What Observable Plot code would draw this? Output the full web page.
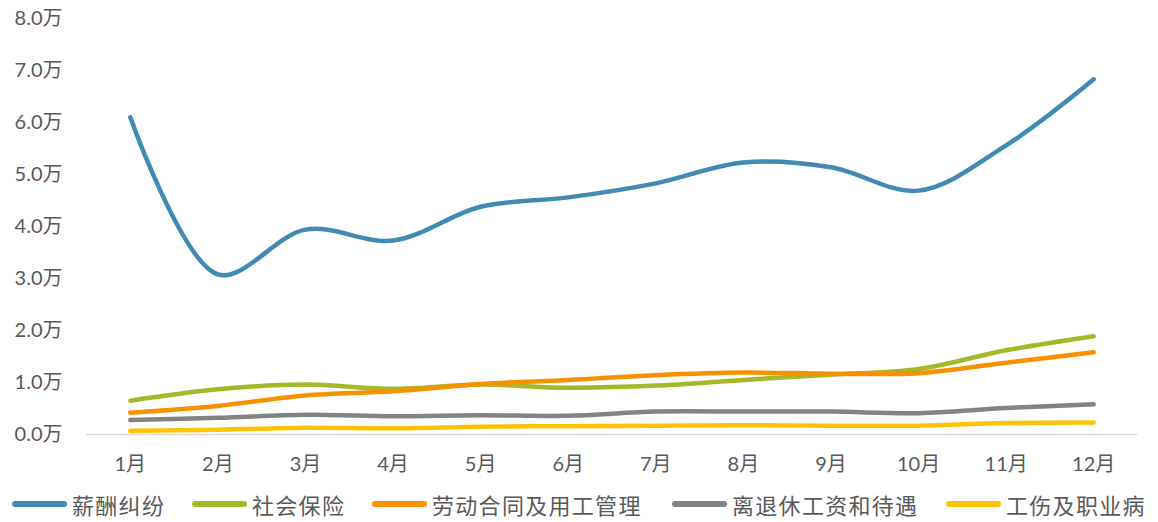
<!DOCTYPE html>
<html>
<head>
<meta charset="utf-8">
<script src="https://cdn.jsdelivr.net/npm/d3@7"></script>
<script src="https://cdn.jsdelivr.net/npm/@observablehq/plot@0.6"></script>
<style>
  html, body { margin: 0; padding: 0; background: #fff; }
  body { width: 1158px; height: 522px; overflow: hidden; font-family: Lato, "Noto Sans CJK SC", sans-serif; }
  #chart svg { display: block; }
  #legend { position: relative; height: 37px; }
  .item { position: absolute; top: 0; height: 37px; display: flex; align-items: center; }
  .sw { width: 55px; height: 6px; border-radius: 3px; margin-right: 5px; }
  .lab { font-size: 22px; color: #595959; letter-spacing: 1.3px; font-family: "Noto Sans CJK SC", sans-serif; }
</style>
</head>
<body>
<div id="chart"></div>
<div id="legend"></div>
<script>
const months = ["1月","2月","3月","4月","5月","6月","7月","8月","9月","10月","11月","12月"];
const seriesNames = ["薪酬纠纷","社会保险","劳动合同及用工管理","离退休工资和待遇","工伤及职业病"];
const colors = ["#418AB3","#A6B727","#F69200","#838383","#FEC306"];
const wage      = [6.10, 3.08, 3.94, 3.73, 4.38, 4.56, 4.83, 5.23, 5.14, 4.69, 5.56, 6.83];
const insurance = [0.65, 0.87, 0.96, 0.88, 0.96, 0.90, 0.94, 1.05, 1.15, 1.26, 1.62, 1.89];
const contract  = [0.42, 0.55, 0.75, 0.83, 0.97, 1.05, 1.14, 1.19, 1.17, 1.18, 1.38, 1.58];
const retire    = [0.28, 0.32, 0.38, 0.35, 0.37, 0.36, 0.44, 0.44, 0.44, 0.41, 0.51, 0.58];
const injury    = [0.07, 0.09, 0.13, 0.12, 0.15, 0.16, 0.17, 0.18, 0.17, 0.17, 0.22, 0.23];
const yTicks = [0,1,2,3,4,5,6,7,8];
const yTickLabels = yTicks.map(v => v.toFixed(1) + "万");

const allSeries = [wage, insurance, contract, retire, injury];
const data = [];
allSeries.forEach((vals, si) => vals.forEach((v, i) => data.push({series: seriesNames[si], month: months[i], value: v})));

const chart = Plot.plot({
  width: 1158,
  height: 485,
  marginLeft: 86,
  marginRight: 21,
  marginTop: 18,
  marginBottom: 51,
  style: {fontFamily: "Lato, 'Noto Sans CJK SC', sans-serif", fontSize: "20px", color: "#595959", background: "#fff"},
  x: {type: "point", domain: months, padding: 0.5, round: false, label: null},
  y: {domain: [0, 8], label: null},
  color: {domain: seriesNames, range: colors},
  marks: [
    Plot.ruleY([0], {stroke: "#D9D9D9", strokeWidth: 1.5}),
    Plot.axisY(yTicks, {tickSize: 0, tickPadding: 24, tickFormat: (d, i) => yTickLabels[i], fontSize: 20, fill: "#595959", label: null}),
    Plot.axisX(months, {tickSize: 0, tickPadding: 22, fontSize: 20, fill: "#595959", label: null}),
    Plot.line(data, {x: "month", y: "value", z: "series", stroke: "series", strokeWidth: 4.5, curve: "catmull-rom", strokeLinecap: "round", strokeLinejoin: "round"})
  ]
});
document.getElementById("chart").appendChild(chart);

const lefts = [12, 192, 372, 672, 946];
const legend = document.getElementById("legend");
seriesNames.forEach((name, i) => {
  const it = document.createElement("div");
  it.className = "item";
  it.style.left = lefts[i] + "px";
  it.innerHTML = `<div class="sw" style="background:${colors[i]}"></div><span class="lab">${name}</span>`;
  legend.appendChild(it);
});
</script>
</body>
</html>
